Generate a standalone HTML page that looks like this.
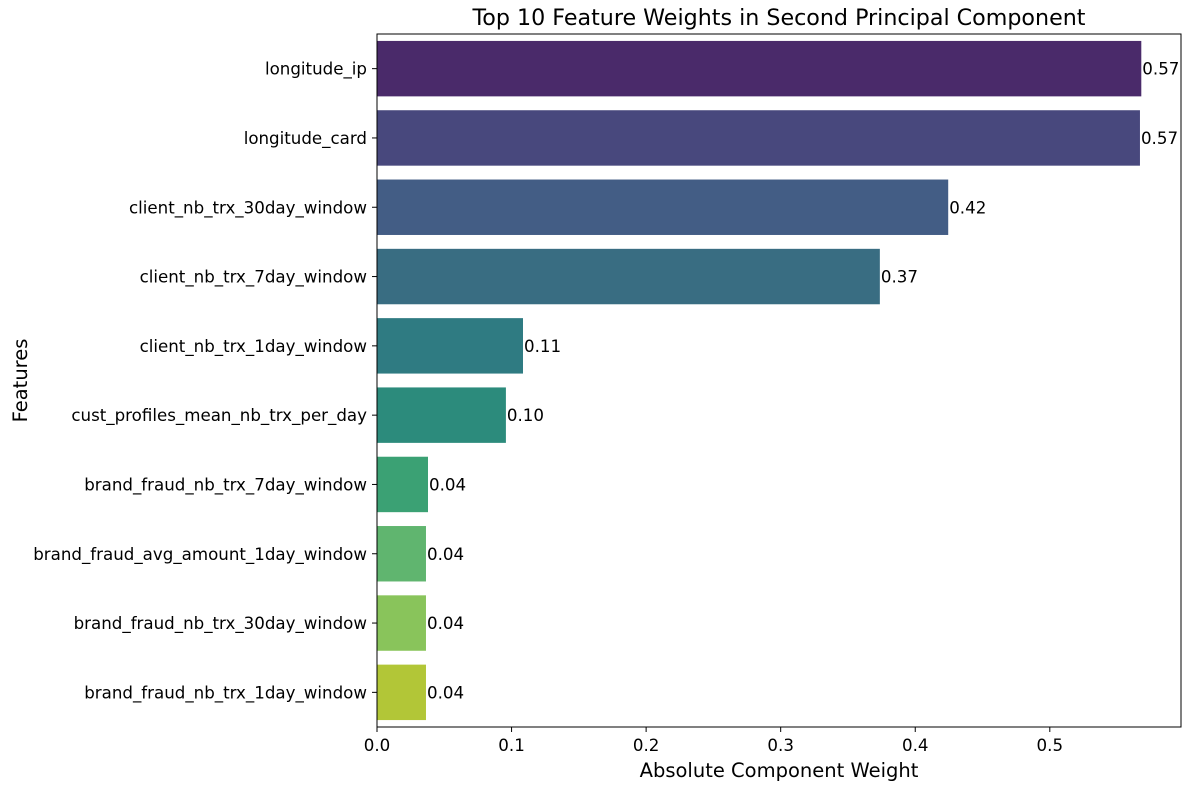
<!DOCTYPE html>
<html><head><meta charset="utf-8"><style>
body{margin:0;background:#fff;font-family:"DejaVu Sans",sans-serif;}
</style></head><body>
<svg id="chart" width="1189" height="790" xmlns="http://www.w3.org/2000/svg" font-family="DejaVu Sans, sans-serif"></svg>
<script>
const features=["longitude_ip","longitude_card","client_nb_trx_30day_window","client_nb_trx_7day_window","client_nb_trx_1day_window","cust_profiles_mean_nb_trx_per_day","brand_fraud_nb_trx_7day_window","brand_fraud_avg_amount_1day_window","brand_fraud_nb_trx_30day_window","brand_fraud_nb_trx_1day_window"];
const weights=[0.568,0.567,0.4245,0.3737,0.1085,0.0958,0.0379,0.0364,0.0364,0.0364];
const xTicks=[0,0.1,0.2,0.3,0.4,0.5];
const colors=["#4a2a6a","#48487d","#435d85","#396d82","#2f7b82","#2c8b7c","#3ba174","#60b56f","#89c45b","#b2c637"];
const L=377,R=1181,T=34,B=727,XMAX=0.5975;
const svg=document.getElementById('chart');
const NS="http://www.w3.org/2000/svg";
const x=v=>L+v/XMAX*(R-L);
const band=(B-T)/features.length;
const y=i=>T+band*i+band/2;
function mk(tag,attrs,text){const e=document.createElementNS(NS,tag);for(const k in attrs)e.setAttribute(k,attrs[k]);if(text!=null)e.textContent=text;svg.appendChild(e);return e;}
features.forEach((f,i)=>{
  const r=mk('rect',{x:L,y:y(i)-band*0.4,width:x(weights[i])-L,height:band*0.8,fill:colors[i]});
  
  
  const v=mk('text',{x:x(weights[i])+1,y:y(i)+6,'font-size':16.67,fill:'#000'},weights[i].toFixed(2));
  
  
  mk('line',{x1:L-5,x2:L,y1:y(i),y2:y(i),stroke:'#000'});
  const t=mk('text',{x:L-10,y:y(i)+6,'font-size':16.67,'text-anchor':'end'},f);
  
  
});
xTicks.forEach(v=>{
  mk('line',{x1:x(v),x2:x(v),y1:B,y2:B+5,stroke:'#000'});
  const t=mk('text',{x:x(v),y:B+24,'font-size':16.67,'text-anchor':'middle'},v.toFixed(1));
  
  
});
const fr=mk('rect',{x:L,y:T,width:R-L,height:B-T,fill:'none',stroke:'#000','stroke-width':1});


const ti=mk('text',{x:(L+R)/2,y:25,'font-size':22.2,'text-anchor':'middle'},'Top 10 Feature Weights in Second Principal Component');


const xl=mk('text',{x:(L+R)/2,y:777,'font-size':19.5,'text-anchor':'middle'},'Absolute Component Weight');


const yl=mk('text',{x:27,y:(T+B)/2,'font-size':19.5,'text-anchor':'middle',transform:'rotate(-90 27 '+((T+B)/2)+')'},'Features');


</script>
</body></html>
